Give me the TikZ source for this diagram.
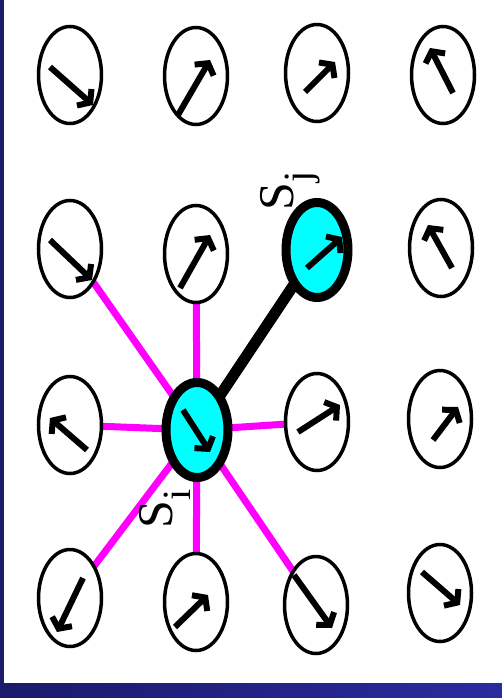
\documentclass[tikz,border=0pt]{standalone}
\usepackage{fontspec}
\setmainfont{Liberation Serif}
\usetikzlibrary{shapes.geometric,arrows.meta,calc,backgrounds}
\definecolor{navy}{HTML}{1B1A6B}
\definecolor{navyr}{HTML}{2B2BA0}
\definecolor{spincyan}{HTML}{00FFFF}
\definecolor{mag}{HTML}{FF00FF}
\begin{document}
\begin{tikzpicture}[x=1pt,y=-1pt,
  site/.style={ellipse, draw, fill=white, line width=3.5pt, minimum width=63pt, minimum height=97pt, inner sep=0pt},
  hot/.style={site, fill=spincyan, line width=9pt, minimum width=62pt, minimum height=95pt},
  spin/.style={line width=6pt, -{Straight Barb[length=8pt,width=22pt,line join=miter]}},
  bond/.style={mag, line width=7pt},
  strong/.style={black, line width=11pt},
  lab/.style={rotate=90, anchor=base west, inner sep=0pt, font=\fontsize{50}{50}\selectfont}]
\useasboundingbox (0,0) rectangle (502,698);

\node[site] (a11) at (70,75) {};
\node[site] (a12) at (196,76) {};
\node[site] (a13) at (317,73) {};
\node[site] (a14) at (443,75) {};
\node[site] (a21) at (70,249) {};
\node[site] (a22) at (196,254) {};
\node[hot]  (sj)  at (317,250) {};
\node[site] (a24) at (441,248) {};
\node[site] (a31) at (70,425) {};
\node[hot]  (si)  at (197,430) {};
\node[site] (a33) at (317,422) {};
\node[site] (a34) at (440,419) {};
\node[site] (a41) at (70,598) {};
\node[site] (a42) at (196,602) {};
\node[site] (a43) at (316,605) {};
\node[site] (a44) at (440,593) {};

\begin{pgfonlayer}{background}
\fill[white] (0,0) rectangle (502,698);
\fill[navy] (0,0) rectangle (4,698);
\fill[left color=navy, right color=navyr] (0,683) rectangle (502,698);
\draw[bond] (si.center) -- (a21.center);
\draw[bond] (si.center) -- (a22.center);
\draw[bond] (si.center) -- (a31.center);
\draw[bond] (si.center) -- (a33.center);
\draw[bond] (si.center) -- (a41.center);
\draw[bond] (si.center) -- (a42.center);
\draw[bond] (si.center) -- (a43.center);
\draw[strong] (si.center) -- (sj.center);
\end{pgfonlayer}

\draw[spin] ($(a11)+(-20,-8)$) -- ($(a11)+(23,30)$);
\draw[spin] ($(a12)+(-18,39)$) -- ($(a12)+(14,-16)$);
\draw[spin] ($(a13)+(-12,19)$) -- ($(a13)+(18,-11)$);
\draw[spin] ($(a14)+(10,18)$) -- ($(a14)+(-13,-27)$);
\draw[spin] ($(a21)+(-20,-9)$) -- ($(a21)+(22,31)$);
\draw[spin] ($(a22)+(-16,34)$) -- ($(a22)+(14,-19)$);
\draw[spin] ($(sj)+(-10,18)$) -- ($(sj)+(25,-13)$);
\draw[spin] ($(a24)+(11,20)$) -- ($(a24)+(-13,-23)$);
\draw[spin] ($(a31)+(17,25)$) -- ($(a31)+(-20,-7)$);
\draw[spin] ($(si)+(-14,-20)$) -- ($(si)+(13,22)$);
\draw[spin] ($(a33)+(-19,10)$) -- ($(a33)+(23,-17)$);
\draw[spin] ($(a34)+(-7,21)$) -- ($(a34)+(18,-12)$);
\draw[spin] ($(a41)+(13,-20)$) -- ($(a41)+(-13,34)$);
\draw[spin] ($(a42)+(-21,25)$) -- ($(a42)+(12,-7)$);
\draw[spin] ($(a43)+(-22,-30)$) -- ($(a43)+(16,23)$);
\draw[spin] ($(a44)+(-18,-21)$) -- ($(a44)+(20,12)$);

\node[lab] (lj) at (293,211) {S\raisebox{-18pt}{\fontsize{40}{40}\selectfont j}};
\node[lab] (li) at (172,529) {S\raisebox{-18pt}{\fontsize{40}{40}\selectfont i}};
\end{tikzpicture}
\end{document}
